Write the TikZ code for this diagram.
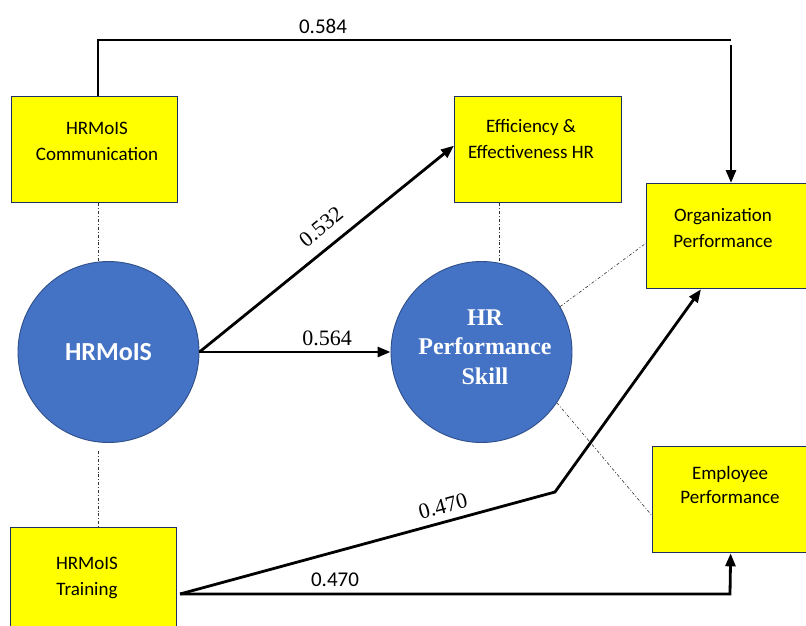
\documentclass[tikz,border=0pt]{standalone}
\usepackage{fontspec}
\setmainfont{Carlito}
\newfontfamily\timesfont{Liberation Serif}
\usetikzlibrary{arrows.meta,calc}
\definecolor{boxyellow}{HTML}{FFFF00}
\definecolor{boxedge}{HTML}{1F3060}
\definecolor{circfill}{HTML}{4472C4}
\definecolor{circedge}{HTML}{2F4F8A}
\begin{document}
\begin{tikzpicture}[x=1pt,y=-1pt,
  box/.style={draw=boxedge,line width=1.3pt,fill=boxyellow,rectangle,
    anchor=north west,inner sep=0pt},
  boxtext/.style={align=center,font=\fontsize{19}{26}\selectfont,inner sep=0pt},
  latent/.style={circle,draw=circedge,line width=0.9pt,fill=circfill,
    minimum size=181pt,inner sep=0pt},
  path/.style={line width=2.8pt,-{Triangle[length=13pt,width=10pt]}},
  plainpath/.style={line width=2.8pt},
  link/.style={draw=black!80,line width=0.6pt,
    dash pattern=on 3pt off 2pt on 0.8pt off 2pt},
  coef/.style={font=\timesfont\fontsize{22}{22}\selectfont,inner sep=0pt},
  coefsans/.style={font=\fontsize{21}{21}\selectfont,inner sep=0pt}]
\useasboundingbox (0,0) rectangle (806,626);
\clip (0,0) rectangle (806,626);

% indicator boxes
\node[box,minimum width=166pt,minimum height=106pt] (comm) at (11,96) {};
\node[box,minimum width=167pt,minimum height=106pt] (eff) at (454,96) {};
\node[box,minimum width=170pt,minimum height=105pt] (org) at (646,183) {};
\node[box,minimum width=156pt,minimum height=106pt] (emp) at (652,446) {};
\node[box,minimum width=166pt,minimum height=130pt] (train) at (10,527) {};

\node[boxtext] (commtxt) at (97,141) {HRMoIS\\Communication};
\node[boxtext] (efftxt) at (531,139) {Efficiency \&\\Effectiveness HR};
\node[boxtext] (orgtxt) at (723,228) {Organization\\Performance};
\node[boxtext,font=\fontsize{19}{24}\selectfont] (emptxt) at (730,485) {Employee\\Performance};
\node[boxtext] (traintxt) at (87,578) {HRMoIS\\Training};

% latent variables
\node[latent] (hrmois) at (108.5,352)
  {\textcolor{white}{\fontsize{26}{26}\selectfont\bfseries HRMoIS}};
\node[latent] (hrps) at (481.5,352) {};
\node[font=\timesfont\bfseries\fontsize{24}{29.5}\selectfont,text=white,
  align=center,inner sep=0pt] (hrpstxt) at (485,347) {HR\\Performance\\Skill};

% helper points
\coordinate (topL) at (98,40);
\coordinate (topR) at (731,40);
\coordinate (trS) at (180,594);
\coordinate (bend) at (555,492);
\coordinate (lowR) at (730,594);
\coordinate (effX) at (499,0);

% measurement links
\draw[link] (comm.south -| topL) -- (hrmois.north -| topL);
\draw[link] ([yshift=-8pt]hrmois.south -| topL) -- (train.north -| topL);
\draw[link] (eff.south -| effX) -- ([yshift=-1pt]hrps.north -| effX);
\draw[link] (hrps.30) -- ([yshift=-7pt]org.west);
\draw[link] (hrps.-34) -- ([yshift=-16pt]emp.west);

% structural paths
\draw[plainpath] (comm.north -| topL) -- (topL) -- (topR);
\draw[path] ([yshift=-5pt]topR) -- (topR |- org.north);
\node[coefsans] (c584) at (323,26) {0.584};

\draw[path] (hrmois.east) -- ([yshift=4pt]eff.west);
\node[coef,rotate=39] (c532) at (321,227) {0.532};

\draw[path] (hrmois.east) -- (hrps.west);
\node[coef] (c564) at (327,338) {0.564};

\draw[path] (trS) -- (bend) -- ($(org.south west)+(55,0)$);
\node[coef,rotate=15] (c470a) at (443,506) {0.470};

\draw[path] (trS) -- (lowR) -- (emp.south);
\node[coefsans] (c470b) at (335,580) {0.470};
\end{tikzpicture}
\end{document}
